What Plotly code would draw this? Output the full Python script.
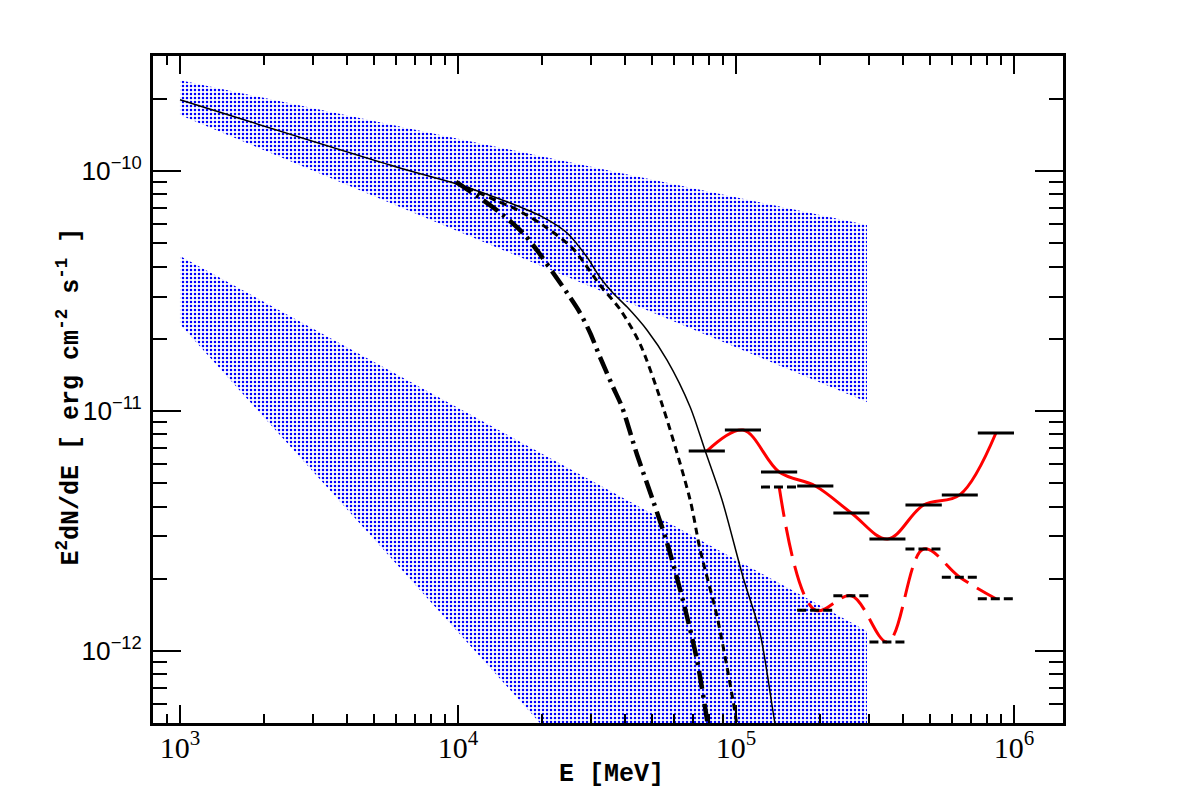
import plotly.graph_objects as go

# ---------------- data (E in MeV, E^2 dN/dE in erg cm^-2 s^-1) ----------------
band_hi_E = [1.0e3, 2.96e5]
band_hi_top = [2.39e-10, 5.96e-11]
band_hi_bot = [1.71e-10, 1.09e-11]

band_lo_E = [1.0e3, 2.96e5]
band_lo_top = [4.42e-11, 1.21e-12]
band_lo_bot = [2.30e-11, 1.55e-14]

solid_E = [1.0e3, 6.18e3, 9.91e3, 1.54e4, 2.02e4, 2.47e4, 2.91e4, 3.24e4, 3.61e4,
           4.06e4, 4.79e4, 5.65e4, 6.84e4, 7.73e4, 8.91e4, 1.06e5, 1.22e5, 1.38e5, 1.42e5]
solid_F = [1.98e-10, 1.03e-10, 8.83e-11, 7.36e-11, 6.43e-11, 5.52e-11, 4.38e-11, 3.61e-11, 3.10e-11,
           2.71e-11, 2.17e-11, 1.63e-11, 1.04e-11, 6.88e-12, 4.26e-12, 2.03e-12, 1.19e-12, 5.01e-13, 4.26e-13]

dot_E = [9.84e3, 1.10e4, 1.38e4, 1.63e4, 2.02e4, 2.59e4, 3.24e4, 3.83e4, 4.52e4,
         5.46e4, 6.84e4, 7.43e4, 8.55e4, 9.75e4, 1.02e5]
dot_F = [8.91e-11, 8.45e-11, 7.50e-11, 6.90e-11, 5.95e-11, 4.75e-11, 3.35e-11, 2.65e-11, 1.90e-11,
         1.04e-11, 4.26e-12, 2.64e-12, 1.39e-12, 6.25e-13, 4.47e-13]

dashdot_E = [9.84e3, 1.23e4, 1.45e4, 1.71e4, 1.92e4, 2.20e4, 2.47e4, 2.75e4, 2.99e4, 3.24e4,
             3.61e4, 3.89e4, 4.41e4, 5.02e4, 5.65e4, 6.44e4, 7.24e4, 7.87e4, 8.0e4]
dashdot_F = [9.0e-11, 7.57e-11, 6.56e-11, 5.52e-11, 4.69e-11, 3.76e-11, 3.10e-11, 2.56e-11, 2.11e-11, 1.68e-11,
             1.26e-11, 1.04e-11, 6.56e-12, 4.26e-12, 2.82e-12, 1.63e-12, 9.17e-13, 5.15e-13, 4.47e-13]

bin_lo = [6.76e4, 9.12e4, 1.23e5, 1.66e5, 2.24e5, 3.02e5, 4.07e5, 5.50e5, 7.41e5]
bin_hi = [9.12e4, 1.23e5, 1.66e5, 2.24e5, 3.02e5, 4.07e5, 5.50e5, 7.41e5, 1.0e6]
bin_c = [7.85e4, 1.06e5, 1.43e5, 1.93e5, 2.60e5, 3.51e5, 4.73e5, 6.38e5, 8.61e5]
sens_solid = [6.81e-12, 8.33e-12, 5.57e-12, 4.87e-12, 3.76e-12, 2.93e-12, 4.06e-12, 4.47e-12, 8.10e-12]
sens_dashed = [None, None, 4.82e-12, 1.48e-12, 1.70e-12, 1.09e-12, 2.66e-12, 2.03e-12, 1.65e-12]

x_tick_font = "Liberation Serif"
y_tick_font = "Liberation Sans"
title_font = "Liberation Mono"

# ---------------- figure ----------------
fig = go.Figure()

pattern = dict(shape=".", size=4, solidity=0.3, fgcolor="#0000ff",
               bgcolor="rgba(0,0,0,0)", fillmode="replace")

for E, top, bot in [(band_hi_E, band_hi_top, band_hi_bot),
                    (band_lo_E, band_lo_top, band_lo_bot)]:
    fig.add_trace(go.Scatter(
        x=E + E[::-1], y=top + bot[::-1], mode="lines", fill="toself",
        fillcolor="rgba(0,0,0,0)", fillpattern=pattern,
        line=dict(width=0, color="rgba(0,0,0,0)"), hoverinfo="skip"))

fig.add_trace(go.Scatter(x=solid_E, y=solid_F, mode="lines",
                         line=dict(color="black", width=1.5, shape="spline", smoothing=0.8)))
fig.add_trace(go.Scatter(x=dot_E, y=dot_F, mode="lines",
                         line=dict(color="black", width=3, dash="7px,5px",
                                   shape="spline", smoothing=0.8)))
fig.add_trace(go.Scatter(x=dashdot_E, y=dashdot_F, mode="lines",
                         line=dict(color="black", width=4.5, dash="18px,6px,3px,6px",
                                   shape="spline", smoothing=0.8)))

# red smooth curves
fig.add_trace(go.Scatter(x=bin_c, y=sens_solid, mode="lines",
                         line=dict(color="#ff0000", width=3, shape="spline", smoothing=1)))
dash_c = [c for c, v in zip(bin_c, sens_dashed) if v is not None]
dash_v = [v for v in sens_dashed if v is not None]
fig.add_trace(go.Scatter(x=dash_c, y=dash_v, mode="lines",
                         line=dict(color="#ff0000", width=3, shape="spline", smoothing=1,
                                   dash="30px,10px")))

# horizontal bin segments
sx, sy = [], []
for lo, hi, v in zip(bin_lo, bin_hi, sens_solid):
    sx += [lo, hi, None]
    sy += [v, v, None]
fig.add_trace(go.Scatter(x=sx, y=sy, mode="lines", line=dict(color="black", width=3)))

dx, dy = [], []
for lo, hi, v in zip(bin_lo, bin_hi, sens_dashed):
    if v is None:
        continue
    dx += [lo, hi, None]
    dy += [v, v, None]
fig.add_trace(go.Scatter(x=dx, y=dy, mode="lines",
                         line=dict(color="black", width=3, dash="9px,4px")))

axis_common = dict(
    type="log", showline=True, linewidth=3, linecolor="black", mirror="ticks",
    ticks="inside", tickwidth=2, tickcolor="black", dtick=1,
    exponentformat="power", showgrid=False, zeroline=False, automargin=False,
)

fig.update_xaxes(**axis_common, range=[2.9029, 6.1763], ticklen=18,
                 tickfont=dict(family=x_tick_font, size=24, color="black"),
                 ticklabelstandoff=-3,
                 minor=dict(ticks="inside", ticklen=9, tickwidth=2, tickcolor="black",
                            showgrid=False, dtick="D1"))
fig.update_yaxes(**axis_common, range=[-12.30, -9.5208], ticklen=28,
                 tickfont=dict(family=y_tick_font, size=21, color="black"),
                 ticklabelstandoff=4,
                 minor=dict(ticks="inside", ticklen=14, tickwidth=2, tickcolor="black",
                            showgrid=False, dtick="D1"))

fig.add_annotation(xref="paper", yref="paper", x=0.504, y=-0.077,
                   text="<b>E [MeV]</b>", showarrow=False,
                   font=dict(family=title_font, size=25, color="black"),
                   xanchor="center", yanchor="middle")
fig.add_annotation(xref="paper", yref="paper", x=-0.092, y=0.49,
                   text="<b>E<sup>2</sup>dN/dE [ erg cm<sup>-2</sup> s<sup>-1</sup> ]</b>",
                   showarrow=False, textangle=-90,
                   font=dict(family=title_font, size=25, color="black"),
                   xanchor="center", yanchor="middle")

fig.update_layout(
    width=1182, height=805,
    margin=dict(l=153, r=119, t=56, b=82),
    paper_bgcolor="white", plot_bgcolor="white",
    showlegend=False,
)

fig.write_html("out.html")
